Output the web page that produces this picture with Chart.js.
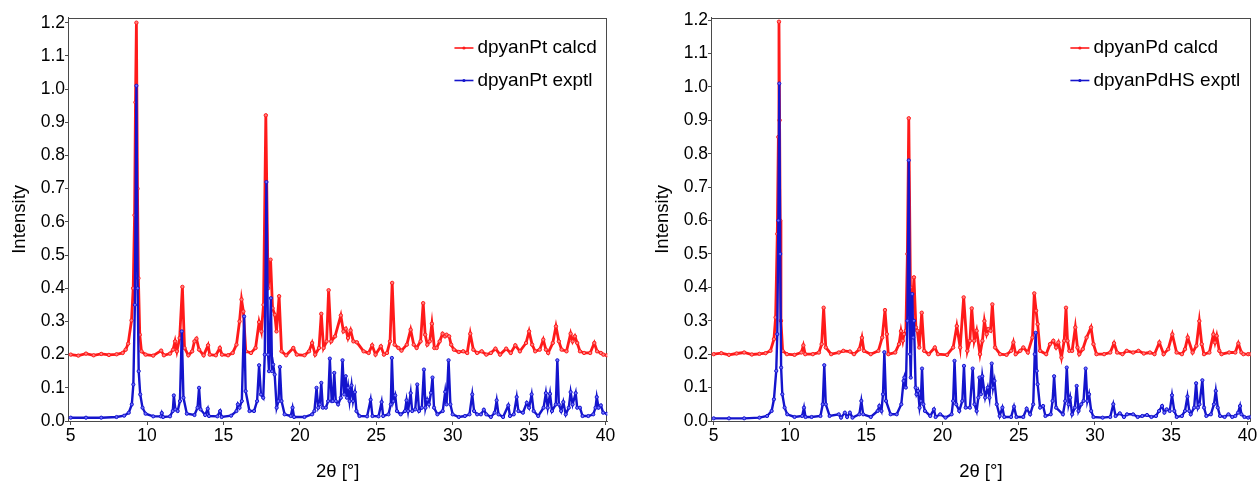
<!DOCTYPE html>
<html><head><meta charset="utf-8">
<script src="https://cdn.jsdelivr.net/npm/chart.js@4.4.1/dist/chart.umd.min.js"></script>
<style>
html,body{margin:0;padding:0;background:#fff;width:1260px;height:484px;overflow:hidden}
.box{position:absolute;top:0;height:484px}
#b1{left:0;width:630px}
#b2{left:643px;width:617px}
</style></head><body>
<div class="box" id="b1"><canvas id="c1"></canvas></div>
<div class="box" id="b2"><canvas id="c2"></canvas></div>
<script>
// ---- tick labels / categories ----
const xTicks = [5, 10, 15, 20, 25, 30, 35, 40];
const yTicks = [0, 0.1, 0.2, 0.3, 0.4, 0.5, 0.6, 0.7, 0.8, 0.9, 1.0, 1.1, 1.2];
const xTitle = '2θ [°]';
const yTitle = 'Intensity';
const leftLabels = ['dpyanPt calcd', 'dpyanPt exptl'];
const rightLabels = ['dpyanPd calcd', 'dpyanPdHS exptl'];

// ---- left chart: dpyanPt calcd (red) ----
const ptCalcdX = [5.0,5.5,6.0,6.5,7.0,7.5,8.0,8.4,8.6,8.76,8.98,9.09,9.18,9.24,9.3,9.37,9.43,9.52,9.63,9.9,10.4,10.92,11.1,11.5,11.7,11.83,11.95,12.13,12.31,12.45,12.7,12.95,13.1,13.23,13.4,13.7,13.99,14.1,14.5,14.76,14.9,15.3,15.6,15.85,16.05,16.18,16.3,16.46,16.8,17.1,17.33,17.48,17.62,17.77,17.92,18.08,18.21,18.36,18.47,18.64,18.8,19.1,19.57,19.8,20.3,20.6,20.8,21.0,21.25,21.4,21.55,21.75,21.88,22.05,22.3,22.68,22.85,23.0,23.15,23.32,23.5,23.73,24.17,24.5,24.73,24.95,25.3,25.5,25.7,25.9,26.04,26.2,26.45,26.65,27.0,27.25,27.45,27.64,27.9,28.07,28.2,28.34,28.5,28.64,28.8,28.95,29.15,29.34,29.5,29.6,29.77,29.9,30.08,30.4,30.69,30.95,31.15,31.35,31.6,31.9,32.2,32.5,32.8,33.1,33.5,33.8,34.1,34.4,34.8,35.0,35.2,35.4,35.7,35.93,36.1,36.25,36.55,36.76,36.95,37.13,37.45,37.72,37.85,38.0,38.15,38.33,38.6,39.0,39.27,39.45,39.7,39.86,40.1];
const ptCalcdY = [0.200,0.197,0.203,0.198,0.202,0.199,0.201,0.205,0.215,0.233,0.303,0.40,0.62,0.96,1.20,0.70,0.43,0.26,0.21,0.200,0.197,0.212,0.198,0.203,0.215,0.24,0.21,0.25,0.404,0.22,0.198,0.21,0.24,0.248,0.215,0.198,0.228,0.2,0.198,0.22,0.2,0.198,0.205,0.23,0.30,0.366,0.33,0.21,0.205,0.22,0.298,0.27,0.35,0.921,0.40,0.486,0.34,0.32,0.27,0.376,0.21,0.198,0.22,0.2,0.198,0.21,0.235,0.2,0.22,0.323,0.22,0.24,0.394,0.24,0.255,0.318,0.27,0.278,0.25,0.273,0.24,0.237,0.21,0.205,0.228,0.2,0.225,0.2,0.205,0.24,0.416,0.23,0.22,0.212,0.23,0.275,0.23,0.22,0.24,0.355,0.26,0.23,0.24,0.293,0.22,0.22,0.24,0.263,0.255,0.26,0.255,0.23,0.215,0.208,0.21,0.205,0.263,0.215,0.205,0.21,0.2,0.205,0.218,0.2,0.218,0.205,0.228,0.21,0.235,0.27,0.23,0.21,0.215,0.245,0.215,0.205,0.235,0.285,0.24,0.215,0.21,0.263,0.24,0.255,0.235,0.21,0.205,0.205,0.235,0.21,0.205,0.2,0.198];

// ---- left chart: dpyanPt exptl (blue) ----
const ptExptlX = [5.0,6.0,7.0,8.0,8.5,8.8,9.0,9.1,9.2,9.3,9.38,9.45,9.55,9.7,9.9,10.4,10.9,10.96,11.05,11.5,11.68,11.75,11.85,12.0,12.15,12.27,12.38,12.6,13.1,13.3,13.4,13.5,13.8,13.97,14.05,14.6,14.78,14.88,15.5,15.85,15.94,16.05,16.2,16.35,16.45,16.7,17.0,17.2,17.33,17.45,17.6,17.7,17.81,17.92,17.98,18.1,18.18,18.25,18.35,18.48,18.6,18.69,18.8,19.0,19.4,19.52,19.62,20.3,20.8,20.95,21.09,21.2,21.3,21.4,21.5,21.7,21.85,21.96,22.08,22.15,22.25,22.35,22.5,22.68,22.79,22.9,23.0,23.08,23.16,23.25,23.38,23.48,23.6,23.7,23.9,24.4,24.63,24.75,25.15,25.35,25.45,25.8,25.95,26.02,26.12,26.24,26.35,26.6,26.88,26.98,27.08,27.25,27.35,27.55,27.68,27.8,27.98,28.12,28.22,28.34,28.45,28.58,28.68,28.78,29.0,29.35,29.51,29.6,29.73,29.85,30.0,30.4,30.8,31.1,31.28,31.4,31.6,31.85,32.04,32.2,32.5,32.75,32.88,33.0,33.3,33.64,33.75,34.0,34.19,34.3,34.6,34.85,35.0,35.17,35.3,35.6,35.95,36.1,36.22,36.37,36.5,36.75,36.85,36.95,37.1,37.24,37.4,37.6,37.72,37.85,38.05,38.15,38.33,38.5,38.88,39.2,39.35,39.43,39.55,39.7,39.85,40.1];
const ptExptlY = [0.010,0.010,0.010,0.012,0.016,0.025,0.05,0.11,0.35,1.01,0.40,0.15,0.08,0.04,0.022,0.014,0.014,0.024,0.012,0.014,0.03,0.077,0.035,0.03,0.06,0.27,0.07,0.022,0.018,0.04,0.10,0.035,0.018,0.037,0.015,0.014,0.03,0.012,0.016,0.03,0.05,0.04,0.06,0.315,0.09,0.03,0.03,0.06,0.168,0.08,0.07,0.2,0.72,0.20,0.15,0.37,0.15,0.17,0.14,0.04,0.06,0.163,0.06,0.02,0.015,0.04,0.012,0.012,0.02,0.03,0.10,0.04,0.05,0.115,0.04,0.04,0.06,0.188,0.06,0.06,0.145,0.06,0.05,0.07,0.183,0.08,0.135,0.07,0.10,0.06,0.107,0.06,0.087,0.03,0.015,0.014,0.064,0.015,0.014,0.057,0.015,0.02,0.05,0.19,0.06,0.077,0.03,0.02,0.03,0.062,0.03,0.084,0.03,0.035,0.11,0.03,0.04,0.155,0.04,0.064,0.05,0.085,0.131,0.04,0.02,0.03,0.088,0.05,0.183,0.05,0.02,0.012,0.015,0.02,0.08,0.03,0.02,0.02,0.034,0.02,0.012,0.025,0.062,0.02,0.012,0.047,0.015,0.02,0.072,0.03,0.025,0.055,0.04,0.08,0.03,0.015,0.04,0.084,0.04,0.082,0.03,0.05,0.183,0.05,0.03,0.057,0.02,0.04,0.087,0.05,0.084,0.04,0.04,0.015,0.015,0.02,0.04,0.072,0.04,0.047,0.025,0.022];

// ---- right chart: dpyanPd calcd (red) ----
const pdCalcdX = [5.0,5.5,6.0,6.5,7.0,7.5,8.0,8.4,8.72,8.95,9.06,9.17,9.24,9.28,9.32,9.36,9.41,9.52,9.8,10.3,10.75,10.88,11.0,11.5,11.9,12.08,12.21,12.35,12.7,13.2,13.5,13.93,14.2,14.55,14.72,14.85,15.3,15.8,16.05,16.23,16.35,16.45,16.9,17.15,17.28,17.4,17.48,17.6,17.7,17.79,17.9,17.98,18.13,18.26,18.35,18.48,18.64,18.8,19.1,19.5,19.7,20.3,20.7,20.94,21.16,21.39,21.63,21.8,21.92,22.08,22.24,22.46,22.62,22.75,22.9,23.01,23.15,23.27,23.45,23.78,24.2,24.5,24.65,24.8,25.1,25.3,25.6,25.9,26.02,26.14,26.24,26.4,26.8,27.05,27.27,27.45,27.6,27.8,27.98,28.1,28.2,28.32,28.5,28.71,28.85,28.97,29.2,29.45,29.74,29.9,30.1,30.6,31.0,31.25,31.45,31.8,32.08,32.5,32.85,33.2,33.6,33.9,34.22,34.5,34.8,35.07,35.35,35.7,35.9,36.08,36.4,36.65,36.84,37.0,37.15,37.5,37.76,37.87,37.98,38.15,38.3,38.8,39.2,39.4,39.6,39.73,40.05,40.2];
const pdCalcdY = [0.2,0.203,0.198,0.202,0.205,0.199,0.201,0.203,0.21,0.245,0.31,0.56,0.85,1.195,0.90,0.6,0.3,0.21,0.2,0.198,0.205,0.226,0.2,0.2,0.205,0.23,0.339,0.22,0.2,0.205,0.21,0.208,0.2,0.215,0.249,0.21,0.2,0.21,0.25,0.332,0.26,0.2,0.205,0.23,0.269,0.24,0.26,0.27,0.5,0.906,0.4,0.3,0.43,0.28,0.27,0.22,0.324,0.21,0.2,0.22,0.2,0.198,0.22,0.284,0.22,0.37,0.21,0.24,0.337,0.24,0.27,0.2,0.24,0.299,0.26,0.275,0.27,0.349,0.22,0.2,0.198,0.21,0.235,0.2,0.21,0.22,0.205,0.25,0.382,0.33,0.29,0.21,0.2,0.23,0.24,0.22,0.235,0.19,0.24,0.339,0.24,0.21,0.21,0.28,0.22,0.2,0.215,0.25,0.28,0.23,0.2,0.2,0.205,0.233,0.205,0.2,0.21,0.205,0.21,0.202,0.205,0.2,0.235,0.2,0.215,0.259,0.205,0.2,0.215,0.25,0.205,0.225,0.299,0.23,0.2,0.205,0.259,0.235,0.255,0.21,0.2,0.205,0.205,0.232,0.205,0.2,0.2,0.2];

// ---- right chart: dpyanPdHS exptl (blue) ----
const pdExptlX = [5.0,6.0,7.0,8.0,8.5,8.8,8.95,9.1,9.17,9.24,9.3,9.36,9.42,9.5,9.65,9.82,10.3,10.8,10.92,11.02,11.42,12.0,12.15,12.25,12.35,12.6,13.2,13.35,13.6,13.75,13.93,14.1,14.55,14.68,14.8,15.3,15.75,15.86,16.0,16.1,16.19,16.3,16.6,17.0,17.3,17.45,17.5,17.6,17.7,17.79,17.88,17.92,18.02,18.08,18.13,18.24,18.3,18.4,18.5,18.58,18.66,18.75,18.85,19.2,19.44,19.55,19.85,20.2,20.6,20.7,20.79,20.9,21.1,21.3,21.41,21.52,21.8,21.98,22.1,22.24,22.35,22.42,22.52,22.61,22.8,22.97,23.08,23.23,23.32,23.41,23.56,23.75,23.93,24.05,24.5,24.69,24.85,25.3,25.52,25.75,25.95,26.05,26.11,26.18,26.24,26.4,26.6,26.75,27.1,27.22,27.32,27.45,27.9,28.05,28.15,28.27,28.37,28.5,28.68,28.8,28.92,29.1,29.25,29.39,29.5,29.61,29.75,29.9,30.5,31.0,31.2,31.35,31.63,31.9,32.1,32.5,32.8,33.1,33.41,33.7,34.0,34.2,34.4,34.55,34.7,34.9,35.05,35.2,35.36,35.7,35.9,36.06,36.18,36.28,36.5,36.63,36.75,36.85,37.04,37.15,37.3,37.6,37.8,37.92,38.05,38.2,38.5,38.75,39.0,39.2,39.38,39.51,39.6,39.8,40.05,40.2];
const pdExptlY = [0.008,0.008,0.008,0.010,0.015,0.03,0.065,0.15,0.26,0.6,1.01,0.5,0.16,0.08,0.04,0.02,0.012,0.015,0.04,0.012,0.012,0.015,0.05,0.167,0.05,0.015,0.02,0.01,0.025,0.012,0.025,0.01,0.02,0.06,0.02,0.012,0.03,0.045,0.03,0.08,0.206,0.06,0.02,0.02,0.05,0.12,0.13,0.10,0.3,0.78,0.2,0.13,0.38,0.25,0.30,0.1,0.08,0.09,0.04,0.06,0.157,0.05,0.03,0.015,0.035,0.012,0.02,0.01,0.02,0.06,0.18,0.05,0.03,0.06,0.165,0.04,0.04,0.157,0.05,0.03,0.07,0.13,0.08,0.134,0.07,0.1,0.07,0.172,0.1,0.12,0.05,0.015,0.04,0.012,0.012,0.043,0.012,0.012,0.037,0.02,0.05,0.2,0.264,0.15,0.11,0.04,0.045,0.015,0.02,0.06,0.134,0.04,0.02,0.06,0.16,0.05,0.07,0.02,0.04,0.105,0.03,0.05,0.06,0.157,0.06,0.08,0.03,0.012,0.01,0.012,0.05,0.015,0.023,0.012,0.02,0.02,0.012,0.015,0.018,0.012,0.015,0.03,0.045,0.025,0.035,0.03,0.077,0.03,0.012,0.015,0.03,0.073,0.03,0.02,0.04,0.113,0.04,0.05,0.122,0.04,0.015,0.02,0.05,0.09,0.04,0.015,0.012,0.02,0.012,0.015,0.025,0.045,0.02,0.012,0.01,0.012];

const RED = '#ff1a1a';
const BLUE = '#1414cc';
const FONT = "'Liberation Sans', Arial, Helvetica, sans-serif";
const FRAME = '#4a4a4a';

function pts(xs, ys) { return xs.map((x, i) => ({ x: x, y: ys[i] })); }

const framePlugin = {
  id: 'frame',
  beforeDatasetsDraw(chart) {
    const a = chart.chartArea, c = chart.ctx;
    c.save();
    c.strokeStyle = FRAME; c.lineWidth = 1;
    c.strokeRect(Math.round(a.left) + 0.5, Math.round(a.top) + 0.5,
                 Math.round(a.right - a.left) - 1, Math.round(a.bottom - a.top));
    c.restore();
  }
};

const legendPlugin = {
  id: 'innerLegend',
  afterDraw(chart) {
    const a = chart.chartArea, c = chart.ctx;
    const ds = chart.data.datasets;
    c.save();
    c.font = '19px ' + FONT;
    let maxW = 0;
    ds.forEach(d => { maxW = Math.max(maxW, c.measureText(d.label).width); });
    const tx = a.right - 10.5 - maxW;
    ds.forEach((d, i) => {
      const y = 48 + i * 32.5;
      c.strokeStyle = d.borderColor; c.lineWidth = 1.6;
      c.beginPath(); c.moveTo(tx - 23, y); c.lineTo(tx - 4, y); c.stroke();
      c.fillStyle = d.borderColor;
      c.beginPath(); c.arc(tx - 13.5, y, 1.6, 0, Math.PI * 2); c.fill();
      c.fillStyle = '#000'; c.textBaseline = 'middle'; c.textAlign = 'left';
      c.fillText(d.label, tx, y);
    });
    c.restore();
  }
};

function makeChart(id, labels, calcd, exptl, opt) {
  return new Chart(document.getElementById(id), {
    type: 'line',
    data: {
      datasets: [
        { label: labels[0], data: calcd, borderColor: RED, backgroundColor: RED,
          borderWidth: 2.8, pointRadius: 1.7, pointBorderWidth: 1, pointBackgroundColor: '#ff8080',
          pointBorderColor: RED, tension: 0, order: 2 },
        { label: labels[1], data: exptl, borderColor: BLUE, backgroundColor: BLUE,
          borderWidth: 2.4, pointRadius: 1.6, pointBorderWidth: 1, pointBackgroundColor: '#7070ff',
          pointBorderColor: BLUE, tension: 0, order: 1 }
      ]
    },
    options: {
      responsive: true, maintainAspectRatio: false, animation: false,
      layout: { padding: { top: 17.7, right: opt.rightPad, left: 0, bottom: 0 } },
      plugins: { legend: { display: false }, tooltip: { enabled: false } },
      scales: {
        x: {
          type: 'linear', min: opt.xMin, max: opt.xMax,
          afterBuildTicks: s => { s.ticks = xTicks.map(v => ({ value: v })); },
          afterFit: s => { s.height = 63; },
          ticks: { font: { family: FONT, size: 17.5 }, color: '#000', padding: 1, maxRotation: 0,
                   autoSkip: false, callback: v => String(v) },
          grid: { display: true, drawOnChartArea: false, drawTicks: true, tickLength: 4,
                  color: FRAME, tickColor: FRAME },
          border: { display: true, color: FRAME, width: 1 },
          title: { display: true, text: xTitle, color: '#000', font: { family: FONT, size: 18.5 },
                   padding: { top: 0, bottom: 1.2 } }
        },
        y: {
          type: 'linear', min: 0, max: opt.yMax,
          afterBuildTicks: s => { s.ticks = yTicks.map(v => ({ value: v })); },
          afterFit: s => { s.width = 68; },
          ticks: { font: { family: FONT, size: 17.5 }, color: '#000', padding: 0,
                   autoSkip: false, callback: v => Number(v).toFixed(1) },
          grid: { display: true, drawOnChartArea: false, drawTicks: true, tickLength: 3,
                  color: FRAME, tickColor: FRAME },
          border: { display: true, color: FRAME, width: 1 },
          title: { display: true, text: yTitle, color: '#000', font: { family: FONT, size: 18.5 },
                   padding: { top: 8.9, bottom: 0 } }
        }
      }
    },
    plugins: [framePlugin, legendPlugin]
  });
}

makeChart('c1', leftLabels, pts(ptCalcdX, ptCalcdY), pts(ptExptlX, ptExptlY),
  { xMin: 4.823, xMax: 40.12, yMax: 1.215, rightPad: 22.7 });
makeChart('c2', rightLabels, pts(pdCalcdX, pdCalcdY), pts(pdExptlX, pdExptlY),
  { xMin: 4.823, xMax: 40.21, yMax: 1.207, rightPad: 9.3 });
</script>
</body></html>
